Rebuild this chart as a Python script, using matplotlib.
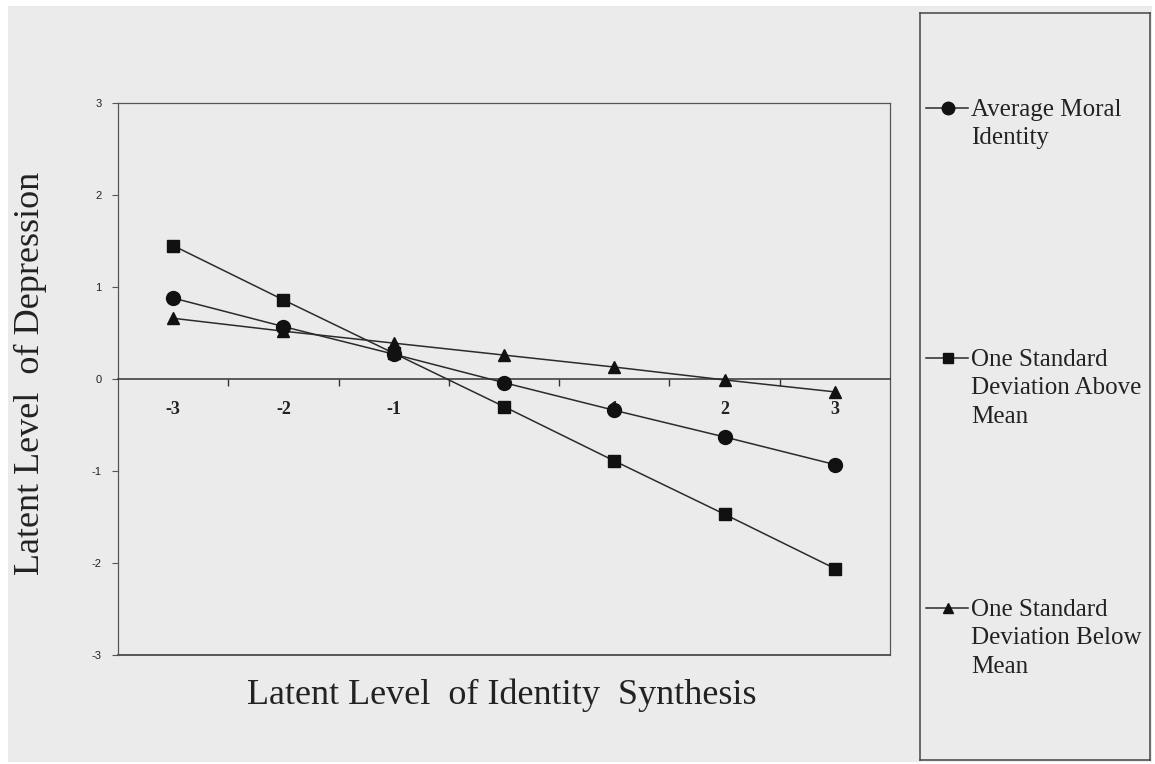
import matplotlib
matplotlib.use("Agg")
import matplotlib.pyplot as plt
from matplotlib.patches import Rectangle

# data
x_vals = [-3, -2, -1, 0, 1, 2, 3]
avg_moral = [0.88, 0.57, 0.27, -0.04, -0.34, -0.63, -0.93]
sd_above = [1.45, 0.86, 0.28, -0.30, -0.89, -1.47, -2.06]
sd_below = [0.66, 0.52, 0.39, 0.26, 0.13, -0.01, -0.14]
y_ticks = [-3, -2, -1, 0, 1, 2, 3]
series_labels = ["Average Moral\nIdentity",
                 "One Standard\nDeviation Above\nMean",
                 "One Standard\nDeviation Below\nMean"]

W, H = 1155, 764
bg = "#ebebeb"
serif = ["Liberation Serif", "DejaVu Serif"]

fig = plt.figure(figsize=(W / 100, H / 100), dpi=100, facecolor="white")
fig.add_artist(Rectangle((8 / W, 2 / H), 1144 / W, 756 / H,
                         transform=fig.transFigure, facecolor=bg,
                         edgecolor="none", zorder=-10))

# main axes
ax = fig.add_axes([118 / W, 1 - 655 / H, (890 - 118) / W, (655 - 103) / H])
ax.set_facecolor(bg)
ax.set_xlim(-3.5, 3.5)
ax.set_ylim(-3, 3)

line_kw = dict(color="#2b2b2b", lw=1.1, markerfacecolor="#111111",
               markeredgecolor="#111111", clip_on=False)
ax.plot(x_vals, sd_below, marker="^", markersize=8.5, zorder=3, **line_kw)
ax.plot(x_vals, sd_above, marker="s", markersize=8, zorder=3, **line_kw)
ax.plot(x_vals, avg_moral, marker="o", markersize=10, zorder=4, **line_kw)

# spines: bottom spine becomes the zero line, frame drawn separately
for s in ["left", "top", "right"]:
    ax.spines[s].set_color("#555555")
    ax.spines[s].set_linewidth(0.9)
ax.spines["bottom"].set_position(("data", 0))
ax.spines["bottom"].set_color("#333333")
ax.spines["bottom"].set_linewidth(1.1)
ax.axhline(-3, color="#555555", lw=1.4, clip_on=False)

ax.set_xticks(x_vals)
ax.set_xticklabels([str(v) for v in x_vals], fontfamily=serif,
                   fontsize=13, fontweight="bold", color="#222222")
ax.set_xticks([v + 0.5 for v in x_vals[:-1]], minor=True)
ax.tick_params(axis="x", which="major", length=0, pad=16)
ax.tick_params(axis="x", which="minor", length=5, direction="out",
               color="#333333", width=1)

ax.set_yticks(y_ticks)
ax.set_yticklabels([str(v) for v in y_ticks], fontfamily="Liberation Sans",
                   fontsize=8, color="#222222")
ax.tick_params(axis="y", length=4, direction="out", color="#555555", pad=8)

ax.set_ylabel("Latent Level  of Depression", fontfamily=serif,
              fontsize=26, color="#222222")
ax.yaxis.set_label_coords(-0.092, 0.51)
ax.set_xlabel("Latent Level  of Identity  Synthesis", fontfamily=serif,
              fontsize=26, color="#222222")
ax.xaxis.set_label_coords(0.497, -0.043)

# legend box drawn by hand
lax = fig.add_axes([920 / W, 1 - 760 / H, (1150 - 920) / W, (760 - 13) / H])
lax.set_facecolor(bg)
lax.set_xlim(920, 1150)
lax.set_ylim(760, 13)
lax.set_xticks([])
lax.set_yticks([])
for s in lax.spines.values():
    s.set_color("#444444")
    s.set_linewidth(1.1)

leg_y = [108, 358, 608]
leg_markers = [("o", 9), ("s", 7), ("^", 7)]
for yy, (mk, ms), lab in zip(leg_y, leg_markers, series_labels):
    lax.plot([926, 968], [yy, yy], color="#2b2b2b", lw=1.1)
    lax.plot([948], [yy], marker=mk, markersize=ms, color="#111111")
    lax.text(971, yy - 9, lab, fontfamily=serif, fontsize=18,
             color="#222222", va="top", ha="left", linespacing=1.38)

fig.savefig("out.png", dpi=100, facecolor=fig.get_facecolor())
